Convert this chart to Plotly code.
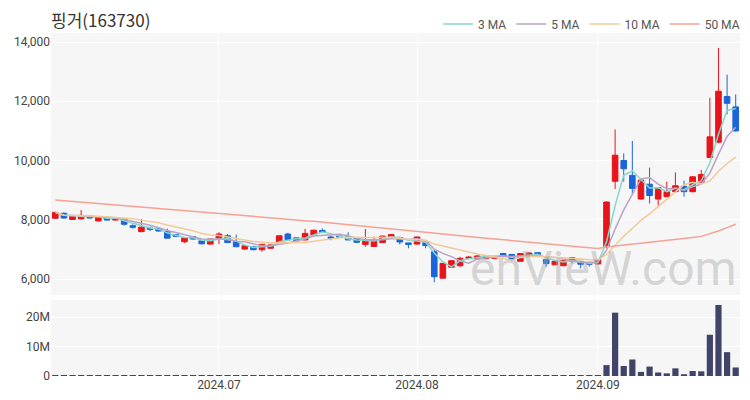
import pandas as pd
import plotly.graph_objects as go

# ---- data -----------------------------------------------------------------
holidays = ["2024-06-06", "2024-08-15", "2024-09-16", "2024-09-17", "2024-09-18"]
dates = [d.strftime("%Y-%m-%d") for d in pd.bdate_range("2024-06-03", "2024-09-27")
         if d.strftime("%Y-%m-%d") not in holidays]

opens = [8050, 8220, 8010, 8030, 8120, 7960, 8080, 7990, 8030, 7800,
         7600, 7720, 7700, 7600, 7500, 7260, 7430, 7290, 7180, 7375,
         7460, 7260, 7010, 7090, 6990, 7040, 7230, 7520, 7390, 7320,
         7490, 7640, 7420, 7450, 7430, 7370, 7170, 7100, 7230, 7400,
         7400, 7220, 7180, 7240, 6920, 6030, 6400, 6450, 6700, 6680,
         6690, 6700, 6860, 6830, 6600, 6780, 6890, 6660, 6480, 6450,
         6720, 6580, 6560, 6510, 7100, 9300, 10000, 9500, 8700, 9200,
         8700, 8780, 8950, 9130, 8950, 9270, 10100, 10620, 12160, 11810]
highs = [8270, 8250, 8140, 8330, 8140, 8110, 8100, 8070, 8050, 7850,
         8020, 7770, 7720, 7700, 7520, 7410, 7450, 7300, 7360, 7580,
         7520, 7500, 7130, 7100, 7180, 7160, 7470, 7560, 7400, 7690,
         7660, 7710, 7460, 7460, 7580, 7380, 7690, 7430, 7460, 7510,
         7430, 7230, 7430, 7270, 6980, 6540, 6640, 6750, 6780, 6800,
         6810, 6780, 6880, 6840, 6870, 6890, 6900, 6670, 6620, 6640,
         6740, 6590, 6570, 6670, 8620, 11050, 10240, 10660, 9370, 9760,
         9100, 9290, 9600, 9320, 9470, 9680, 12120, 13800, 12900, 12230]
lows = [8030, 8040, 8000, 8010, 8040, 7950, 7980, 7980, 7800, 7700,
        7580, 7620, 7610, 7370, 7420, 7220, 7330, 7170, 7170, 7180,
        7220, 7080, 7000, 6970, 6920, 7030, 7220, 7320, 7280, 7310,
        7480, 7570, 7310, 7390, 7310, 7230, 7090, 7090, 7220, 7390,
        7170, 7040, 7170, 7040, 5890, 6020, 6380, 6400, 6680, 6660,
        6680, 6690, 6760, 6640, 6590, 6770, 6740, 6410, 6470, 6430,
        6530, 6360, 6420, 6500, 7040, 9040, 9290, 8860, 8680, 8550,
        8480, 8760, 8920, 8780, 8920, 9250, 10080, 10580, 11560, 10980]
closes = [8250, 8060, 8120, 8150, 8060, 8100, 7990, 8060, 7850, 7750,
          7750, 7680, 7620, 7380, 7440, 7390, 7350, 7190, 7350, 7520,
          7230, 7090, 7120, 6990, 7170, 7150, 7460, 7330, 7290, 7540,
          7650, 7580, 7370, 7400, 7320, 7240, 7310, 7300, 7450, 7500,
          7250, 7170, 7420, 7130, 6080, 6530, 6620, 6700, 6740, 6780,
          6790, 6760, 6780, 6680, 6860, 6880, 6760, 6520, 6600, 6620,
          6600, 6500, 6500, 6660, 8600, 10180, 9720, 9060, 9340, 8820,
          9080, 8950, 9150, 8950, 9450, 9530, 10800, 12340, 11930, 11000]
volumes = [20e3, 15e3, 12e3, 30e3, 10e3, 15e3, 10e3, 8e3, 20e3, 25e3,
           60e3, 15e3, 12e3, 35e3, 12e3, 20e3, 12e3, 18e3, 15e3, 25e3,
           20e3, 30e3, 12e3, 15e3, 25e3, 10e3, 50e3, 30e3, 15e3, 60e3,
           40e3, 18e3, 22e3, 10e3, 20e3, 18e3, 70e3, 40e3, 30e3, 15e3,
           25e3, 25e3, 30e3, 20e3, 90e3, 50e3, 25e3, 22e3, 12e3, 10e3,
           10e3, 8e3, 12e3, 14e3, 20e3, 10e3, 12e3, 25e3, 15e3, 14e3,
           18e3, 20e3, 12e3, 25e3, 3.7e6, 21.5e6, 3.4e6, 5.6e6, 1.4e6, 3.2e6,
           1.2e6, 0.9e6, 2.6e6, 0.6e6, 1.7e6, 1.6e6, 14.0e6, 24.1e6, 8.1e6, 2.9e6]
ma50 = [8670, 8645, 8620, 8595, 8570, 8545, 8520, 8495, 8470, 8445,
        8420, 8400, 8375, 8350, 8325, 8300, 8280, 8255, 8230, 8205,
        8180, 8160, 8135, 8110, 8085, 8060, 8040, 8015, 7990, 7970,
        7950, 7925, 7895, 7865, 7835, 7805, 7780, 7750, 7720, 7690,
        7660, 7635, 7605, 7575, 7545, 7515, 7490, 7460, 7435, 7410,
        7380, 7355, 7325, 7300, 7270, 7245, 7215, 7190, 7160, 7135,
        7110, 7080, 7055, 7030, 7080, 7110, 7145, 7175, 7210, 7240,
        7275, 7305, 7340, 7370, 7405, 7440, 7520, 7620, 7735, 7850]

month_ticks = ["2024-07-01", "2024-08-01", "2024-09-02"]
month_labels = ["2024.07", "2024.08", "2024.09"]

ma_periods = [3, 5, 10]
ma_colors = {3: "#86d8c9", 5: "#b8a3c9", 10: "#f1cb98", 50: "#f4a294"}

# ---- figure ---------------------------------------------------------------
# the page body has an 8px default margin, so pixel targets are shifted by 8
OFF = 8
close_s = pd.Series(closes)
fig = go.Figure()

fig.add_trace(go.Candlestick(
    x=dates, open=opens, high=highs, low=lows, close=closes,
    increasing=dict(line=dict(color="#e8141c", width=1), fillcolor="#e8141c"),
    decreasing=dict(line=dict(color="#1a66d8", width=1), fillcolor="#1a66d8"),
    showlegend=False, xaxis="x", yaxis="y", whiskerwidth=0,
))

for p in ma_periods:
    fig.add_trace(go.Scatter(
        x=dates, y=close_s.rolling(p, min_periods=1).mean(), mode="lines",
        name=f"{p} MA", line=dict(color=ma_colors[p], width=1.5),
        xaxis="x", yaxis="y",
    ))
fig.add_trace(go.Scatter(
    x=dates, y=ma50, mode="lines", name="50 MA",
    line=dict(color=ma_colors[50], width=1.5), xaxis="x", yaxis="y",
))

fig.add_trace(go.Bar(
    x=dates, y=volumes, marker=dict(color="#404468", line=dict(width=0)),
    showlegend=False, xaxis="x2", yaxis="y2",
))

font_family = "Noto Sans CJK KR, Noto Sans, sans-serif"
tick_font = dict(family="Roboto", size=12, color="#444444")
xrange = [-0.5, len(dates) - 0.5]
axis_common = dict(type="category", range=xrange, autorange=False,
                   tickvals=month_ticks, ticktext=month_labels,
                   showgrid=True, gridcolor="#ffffff", gridwidth=1,
                   zeroline=False, showline=False, ticks="", automargin=False,
                   tickfont=tick_font)

fig.update_layout(
    width=750, height=400,
    margin=dict(l=51 - OFF, r=10 + OFF, t=33 - OFF, b=24 + OFF, autoexpand=False),
    paper_bgcolor="#ffffff", plot_bgcolor="#f6f6f6",
    font=dict(family=font_family, size=12, color="#444444"),
    title=dict(text="핑거(163730)", x=(51 - OFF) / 750, xanchor="left", xref="container",
               y=1 - (21 - OFF) / 400, yanchor="middle", yref="container",
               font=dict(size=17, color="#333333", family=font_family)),
    legend=dict(orientation="h", x=(745 - OFF) / 750, xanchor="right", xref="container",
                y=1 - (24 - OFF) / 400, yanchor="middle", yref="container",
                font=dict(size=12, color="#555555", family="Roboto"),
                bgcolor="rgba(0,0,0,0)", tracegroupgap=0),
    xaxis=dict(axis_common, domain=[0, 1], anchor="y", showticklabels=False,
               rangeslider=dict(visible=False)),
    xaxis2=dict(axis_common, domain=[0, 1], anchor="y2", showticklabels=True),
    yaxis=dict(domain=[0.236, 1], range=[5460, 14304],
               tickvals=[6000, 8000, 10000, 12000, 14000], tickformat=",",
               showgrid=True, gridcolor="#ffffff", zeroline=False, ticks="",
               automargin=False, tickfont=tick_font),
    yaxis2=dict(domain=[0, 0.2216], range=[0, 25.8e6],
                tickvals=[0, 10e6, 20e6], ticktext=["0", "10M", "20M"],
                showgrid=True, gridcolor="#ffffff", zeroline=False, ticks="",
                automargin=False, tickfont=tick_font),
    bargap=0.28,
    boxgap=0.35, boxgroupgap=0,
)
fig.add_annotation(text="enVieW.com", xref="paper", yref="paper",
                   x=(603 - 51) / 689, y=(376 - 268) / 343,
                   showarrow=False, xanchor="center", yanchor="middle",
                   font=dict(size=48, color="rgba(170,170,170,0.45)", family="Roboto"))

fig.write_html("out.html")
